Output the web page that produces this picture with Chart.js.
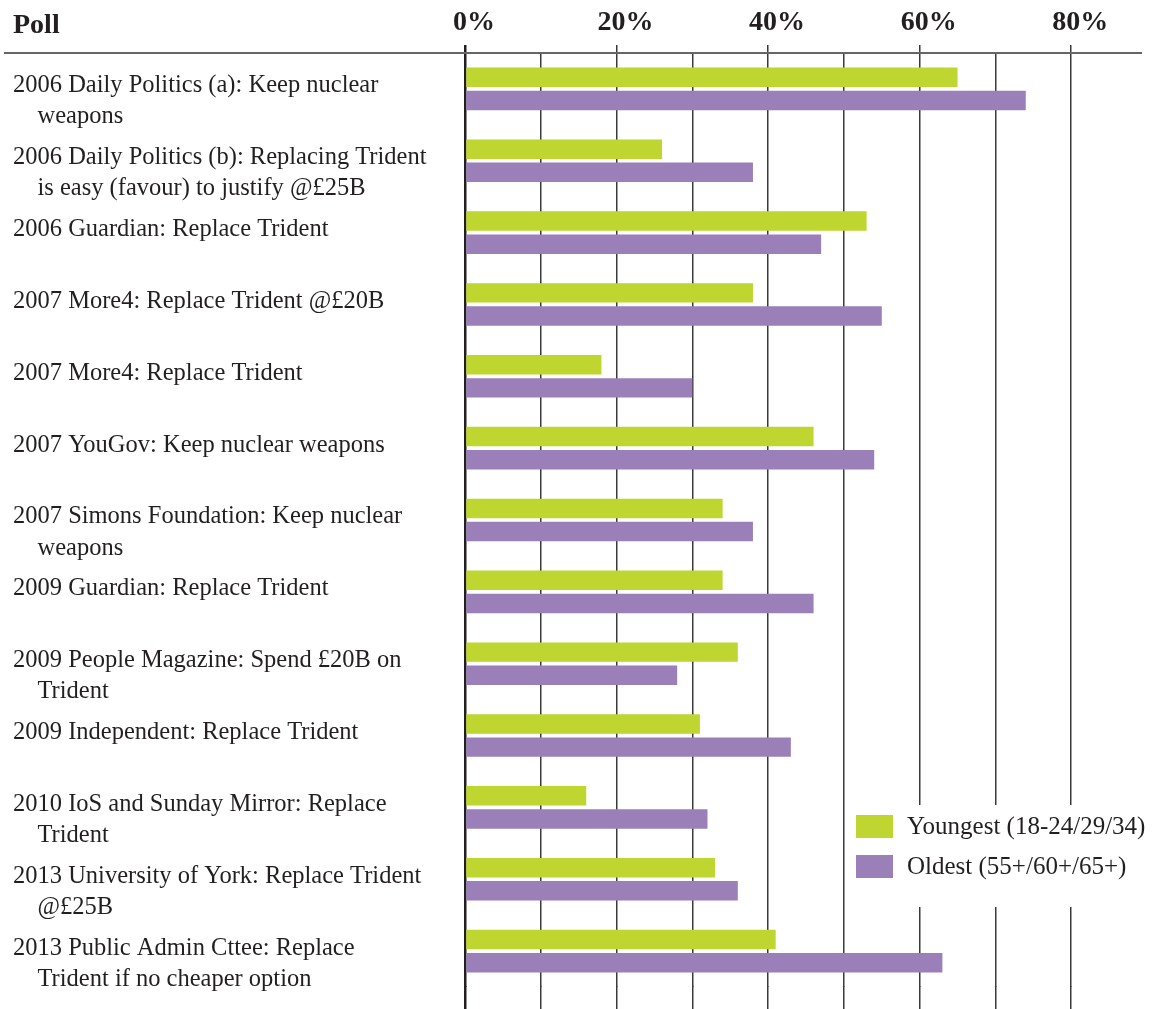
<!DOCTYPE html>
<html>
<head>
<meta charset="utf-8">
<title>Trident polls by age</title>
<script src="https://cdn.jsdelivr.net/npm/chart.js@4.4.1/dist/chart.umd.min.js"></script>
<style>
  body { margin: 0; background: #fff; }
  #wrap { width: 1160px; height: 1009px; }
</style>
</head>
<body>
<div id="wrap"><canvas id="canvas" width="1160" height="1009"></canvas></div>
<script>
// poll names (a leading '' line pushes wrapped labels down like the original)
const polls = [
    ['', '2006 Daily Politics (a): Keep nuclear', '    weapons'],
    ['', '2006 Daily Politics (b): Replacing Trident', '    is easy (favour) to justify @£25B'],
    '2006 Guardian: Replace Trident',
    '2007 More4: Replace Trident @£20B',
    '2007 More4: Replace Trident',
    '2007 YouGov: Keep nuclear weapons',
    ['', '2007 Simons Foundation: Keep nuclear', '    weapons'],
    '2009 Guardian: Replace Trident',
    ['', '2009 People Magazine: Spend £20B on', '    Trident'],
    '2009 Independent: Replace Trident',
    ['', '2010 IoS and Sunday Mirror: Replace', '    Trident'],
    ['', '2013 University of York: Replace Trident', '    @£25B'],
    ['', '2013 Public Admin Cttee: Replace', '    Trident if no cheaper option']
];
const youngest = [65, 26, 53, 38, 18, 46, 34, 34, 36, 31, 16, 33, 41];
const oldest = [74, 38, 47, 55, 30, 54, 38, 46, 28, 43, 32, 36, 63];
const seriesNames = ['Youngest (18-24/29/34)', 'Oldest (55+/60+/65+)'];
const tickLabels = [0, 20, 40, 60, 80];

const ink = '#231f20';
const serif = "'Liberation Serif', 'DejaVu Serif', serif";

// header text, top rule, gridline run-out and the boxed legend
const decor = {
    id: 'decor',
    afterDraw(chart) {
        const ctx = chart.ctx;
        const area = chart.chartArea;
        const x = chart.scales.x;
        ctx.save();

        // gridlines carry on to the bottom edge (same pixel snapping as Chart.js)
        x.ticks.forEach(function (t) {
            if (t.value > 80) return;
            const w = t.value === 0 ? 2.5 : 1.5;
            const px = Math.round(x.getPixelForValue(t.value) - w / 2) + w / 2;
            ctx.beginPath();
            ctx.lineWidth = w;
            ctx.strokeStyle = t.value === 0 ? ink : '#3a3a3a';
            ctx.moveTo(px, area.bottom - 1);
            ctx.lineTo(px, chart.height);
            ctx.stroke();
        });

        // rule under the header row
        ctx.beginPath();
        ctx.lineWidth = 2;
        ctx.strokeStyle = '#666';
        ctx.moveTo(4, area.top);
        ctx.lineTo(area.right - 5, area.top);
        ctx.stroke();

        ctx.fillStyle = ink;
        ctx.font = 'bold 28px ' + serif;
        ctx.textBaseline = 'alphabetic';
        ctx.textAlign = 'left';
        ctx.fillText('Poll', 13, 33);

        // legend
        const lx = area.right - 291;
        const ly = area.bottom - 172;
        ctx.fillStyle = '#fff';
        ctx.fillRect(lx - 11, ly - 10, chart.width - lx + 11, 102);
        ctx.font = '25px ' + serif;
        ctx.textBaseline = 'middle';
        chart.data.datasets.forEach(function (ds, i) {
            const y = ly + i * 40;
            ctx.fillStyle = ds.backgroundColor;
            ctx.fillRect(lx, y, 37, 23);
            ctx.fillStyle = ink;
            ctx.fillText(ds.label, lx + 51, y + 12);
        });
        ctx.restore();
    }
};

const config = {
    type: 'bar',
    data: {
        labels: polls,
        datasets: [
            {
                label: seriesNames[0],
                data: youngest,
                backgroundColor: '#bed62f',
                barPercentage: 0.84,
                categoryPercentage: 0.645
            },
            {
                label: seriesNames[1],
                data: oldest,
                backgroundColor: '#9a7fb9',
                barPercentage: 0.84,
                categoryPercentage: 0.645
            }
        ]
    },
    options: {
        indexAxis: 'y',
        responsive: false,
        animation: false,
        layout: { padding: { left: 13, right: 13, top: 0, bottom: 22 } },
        plugins: {
            legend: { display: false },
            tooltip: { enabled: false }
        },
        scales: {
            x: {
                position: 'top',
                min: 0,
                max: 90,
                afterFit: function (scale) {
                    scale.height = 53;
                    scale.paddingLeft = 0;
                    scale.paddingRight = 0;
                },
                border: { display: false },
                grid: {
                    drawTicks: true,
                    tickLength: 8,
                    color: function (c) {
                        if (!c.tick) return 'transparent';
                        if (c.tick.value > 80) return 'transparent';
                        return c.tick.value === 0 ? ink : '#3a3a3a';
                    },
                    tickColor: function (c) {
                        if (!c.tick) return 'transparent';
                        return tickLabels.indexOf(c.tick.value) >= 0 ? (c.tick.value === 0 ? ink : '#3a3a3a') : 'transparent';
                    },
                    lineWidth: function (c) {
                        return c.tick && c.tick.value === 0 ? 2.5 : 1.5;
                    }
                },
                ticks: {
                    stepSize: 10,
                    padding: 5,
                    labelOffset: 9,
                    color: ink,
                    autoSkip: false,
                    maxRotation: 0,
                    font: { family: serif, size: 28, weight: 'bold' },
                    callback: function (v) {
                        return tickLabels.indexOf(v) >= 0 ? v + '%' : '';
                    }
                }
            },
            y: {
                afterFit: function (scale) {
                    scale.width = 452;
                    scale.paddingTop = 0;
                    scale.paddingBottom = 0;
                },
                border: { display: false },
                grid: { display: false },
                ticks: {
                    crossAlign: 'far',
                    autoSkip: false,
                    padding: 10,
                    labelOffset: -3,
                    color: ink,
                    font: { family: serif, size: 24.5, lineHeight: 1.27 }
                }
            }
        }
    },
    plugins: [decor]
};

const context = document.getElementById('canvas').getContext('2d');
const chart = new Chart(context, config);
</script>
</body>
</html>
